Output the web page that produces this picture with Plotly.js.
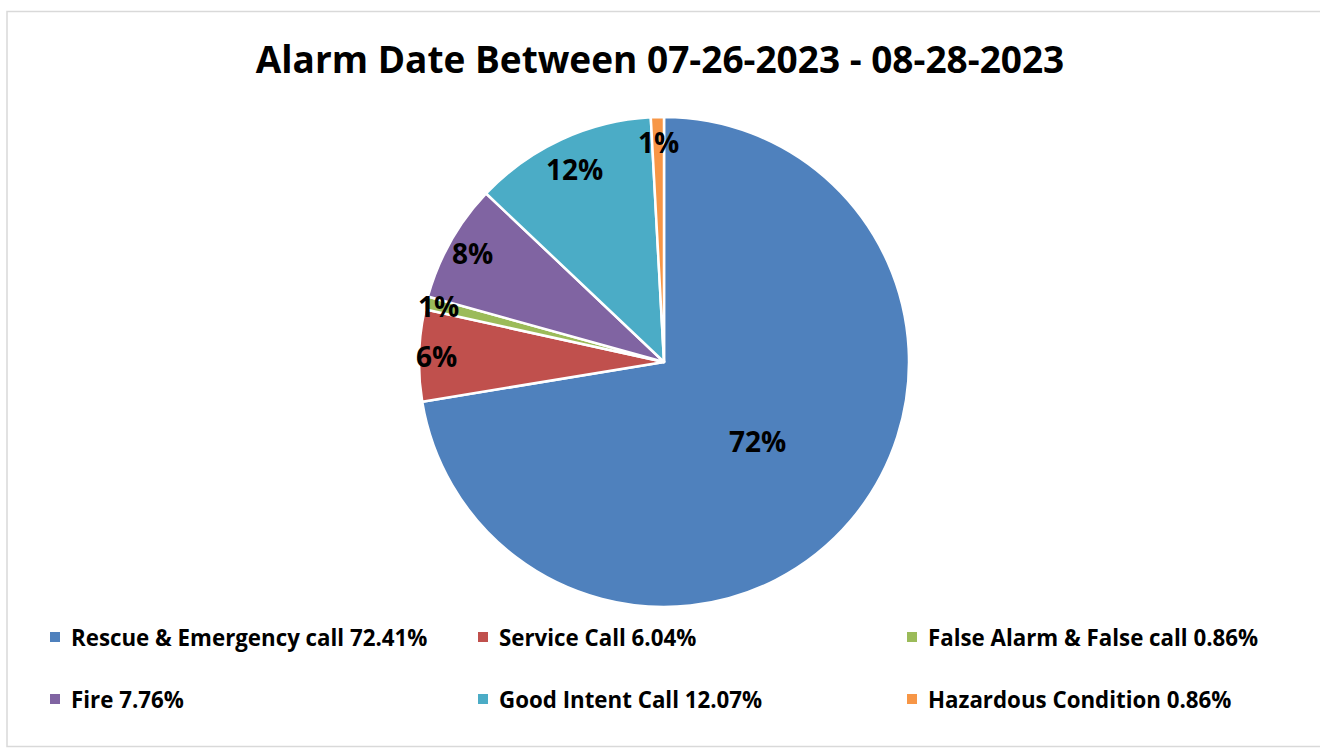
<!DOCTYPE html>
<html><head><meta charset="utf-8">
<script src="https://cdn.plot.ly/plotly-3.0.1.min.js"></script>
<style>html,body{margin:0;padding:0;background:#fff;}#chart{width:1320px;height:748px;}</style>
</head><body><div id="chart"></div>
<script>
const categories = ["Rescue & Emergency call","Service Call","False Alarm & False call","Fire","Good Intent Call","Hazardous Condition"];
const percents = [72.41, 6.04, 0.86, 7.76, 12.07, 0.86];
const colors = ["#4F81BD","#C0504D","#9BBB59","#8064A2","#4BACC6","#F79646"];
const titleText = "Alarm Date Between 07-26-2023 - 08-28-2023";

const W = 1320, H = 748;
const cx = 664, cy = 362, R = 245;
const dom = {x:[(cx-R)/W,(cx+R)/W], y:[(H-cy-R)/H,(H-cy+R)/H]};
const labelR = [0.5, 0.93, 0.95, 0.9, 0.87, 0.9];
const FONT = "'Open Sans', Lato, sans-serif";

const total = percents.reduce((a,b)=>a+b,0);
const annotations = [];
let cum = 0;
percents.forEach((v,i)=>{
  const mid = (cum + v/2)/total*2*Math.PI; cum += v;
  const px = cx + Math.sin(mid)*R*labelR[i];
  const py = cy - Math.cos(mid)*R*labelR[i];
  annotations.push({xref:'paper',yref:'paper',x:px/W,y:1-py/H,xanchor:'center',yanchor:'middle',
    text:'<b>'+Math.round(v)+'%</b>',showarrow:false,font:{family:FONT,size:28,color:'#000'}});
});

const shapes = [{type:'rect',xref:'paper',yref:'paper',x0:7/W,x1:1.01,y0:1-746.5/H,y1:1-11.5/H,line:{color:'#d9d9d9',width:1.5},fillcolor:'rgba(0,0,0,0)'}];
const legX = [55, 483, 912], legY = [637, 699];
categories.forEach((c,i)=>{
  const col = i%3, row = Math.floor(i/3);
  const x = legX[col], y = legY[row];
  shapes.push({type:'rect',xref:'paper',yref:'paper',x0:(x-5)/W,x1:(x+5)/W,y0:1-(y+5)/H,y1:1-(y-5)/H,fillcolor:colors[i],line:{width:0}});
  annotations.push({xref:'paper',yref:'paper',x:(x+14)/W,y:1-y/H,xanchor:'left',yanchor:'middle',showarrow:false,
    text:'<b>'+c+' '+percents[i].toFixed(2)+'%</b>',font:{family:FONT,size:22.3,color:'#000'}});
});

const data = [{type:'pie',labels:categories,values:percents,sort:false,direction:'clockwise',rotation:0,
  marker:{colors:colors,line:{color:'#fff',width:2.5}},textinfo:'none',hoverinfo:'label+percent',domain:dom,showlegend:false}];

const layout = {width:W,height:H,margin:{l:0,r:0,t:0,b:0},paper_bgcolor:'#fff',showlegend:false,
  title:{text:'<b>'+titleText+'</b>',x:0.5,xanchor:'center',y:1-60/H,yanchor:'middle',font:{family:FONT,size:37,color:'#000'}},
  annotations:annotations,shapes:shapes};
Plotly.newPlot('chart',data,layout,{displayModeBar:false,staticPlot:true});
</script></body></html>
